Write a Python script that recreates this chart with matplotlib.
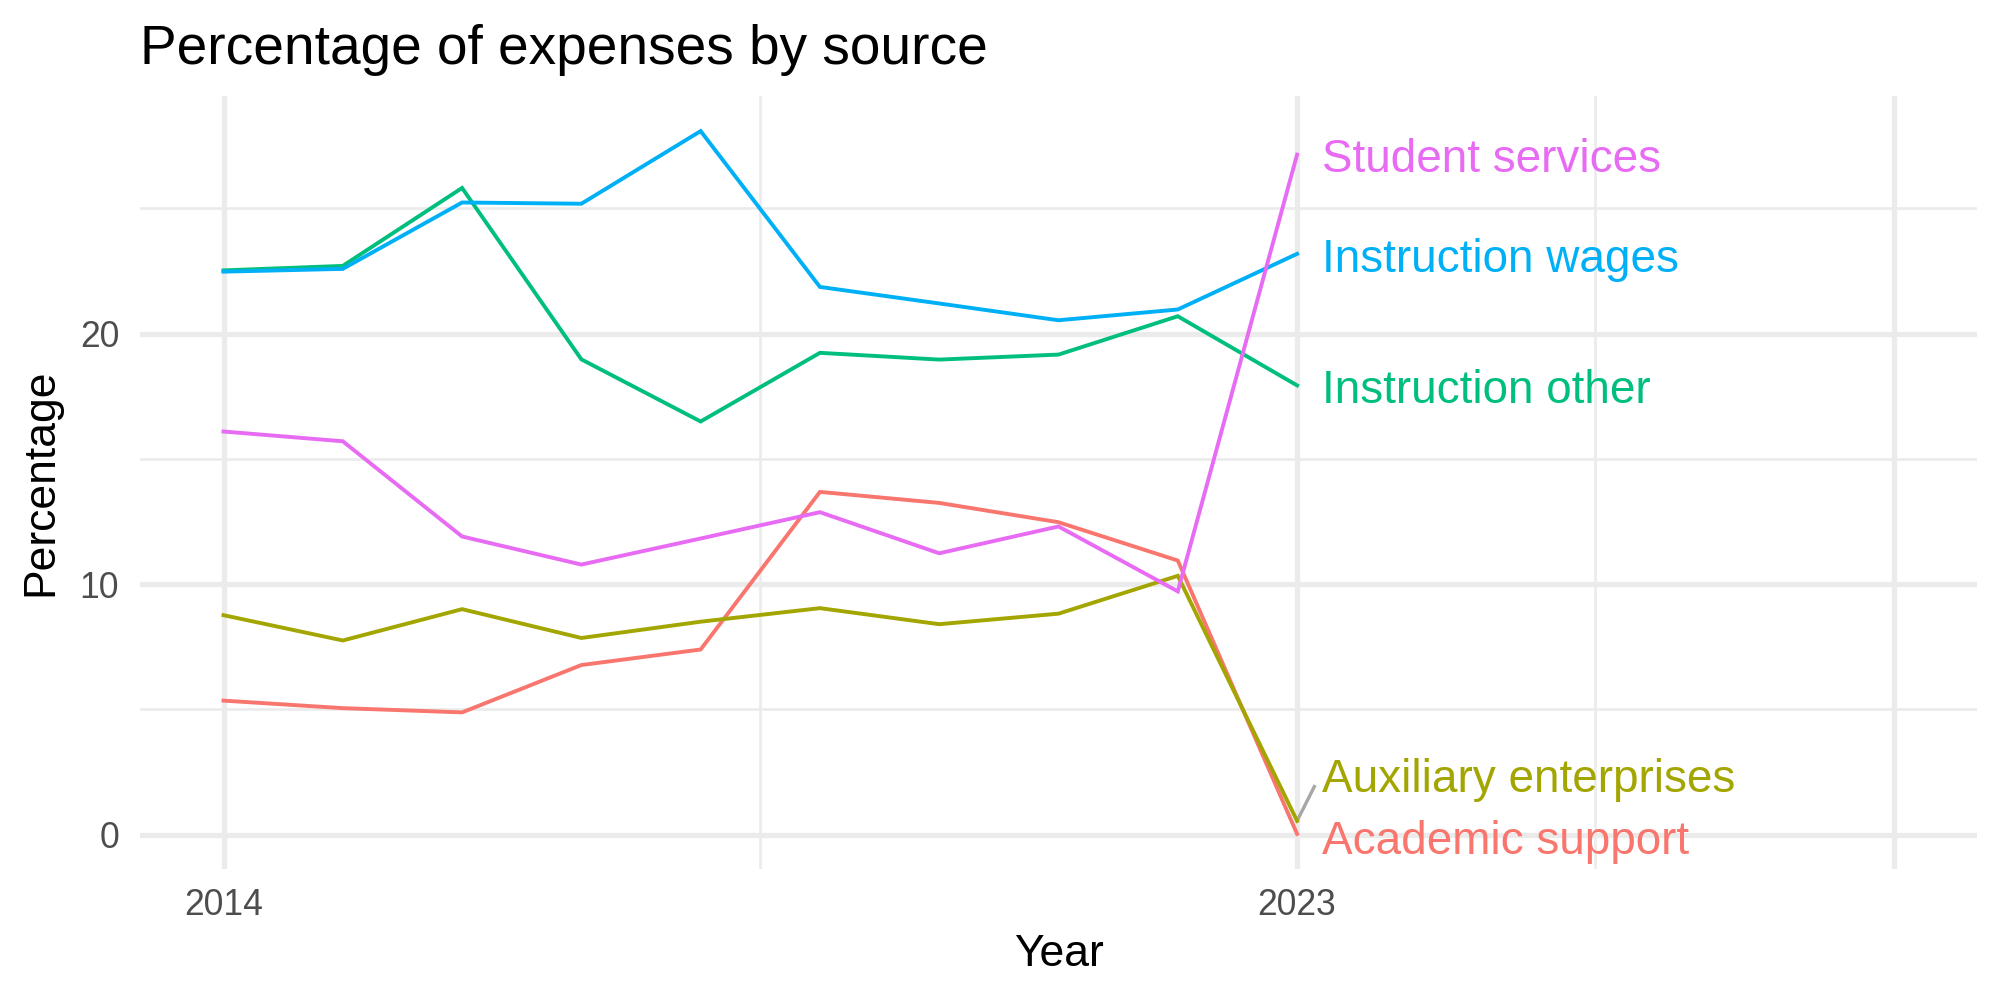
import matplotlib
matplotlib.use("Agg")
import matplotlib.pyplot as plt
from matplotlib.transforms import offset_copy

plt.rcParams['font.family'] = ['Liberation Sans', 'DejaVu Sans']

years = [2014, 2015, 2016, 2017, 2018, 2019, 2020, 2021, 2022, 2023]
academic_support = [5.35, 5.05, 4.88, 6.77, 7.39, 13.68, 13.24, 12.47, 10.94, 0.03]
auxiliary_enterprises = [8.76, 7.75, 9.00, 7.85, 8.50, 9.04, 8.40, 8.82, 10.33, 0.55]
instruction_other = [22.52, 22.70, 25.81, 18.97, 16.49, 19.23, 18.96, 19.16, 20.69, 17.93]
instruction_wages = [22.47, 22.58, 25.23, 25.18, 28.08, 21.86, 21.20, 20.53, 20.96, 23.18]
student_services = [16.09, 15.70, 11.90, 10.78, 11.82, 12.87, 11.23, 12.30, 9.71, 27.14]

series_names = ["Academic support", "Auxiliary enterprises", "Instruction other",
                "Instruction wages", "Student services"]
series_values = [academic_support, auxiliary_enterprises, instruction_other,
                 instruction_wages, student_services]
colors = ["#F8766D", "#A3A500", "#00BF7D", "#00B0F6", "#E76BF3"]

# label nudges (repel result) in data units
label_dy = {"Academic support": -0.15, "Auxiliary enterprises": 1.82,
            "Instruction other": -0.03, "Instruction wages": -0.08,
            "Student services": -0.02}
label_dx = 0.21

fig = plt.figure(figsize=(10, 5), dpi=200)
ax = fig.add_axes([0.07, 0.131, 0.9185, 0.773])

grid_col = "#EBEBEB"
for xv in [2014, 2023, 2028]:
    ax.axvline(xv, color=grid_col, lw=1.9, zorder=0)
for xv in [2018.5, 2025.5]:
    ax.axvline(xv, color=grid_col, lw=0.95, zorder=0)
for yv in [0, 10, 20]:
    ax.axhline(yv, color=grid_col, lw=1.9, zorder=0)
for yv in [5, 15, 25]:
    ax.axhline(yv, color=grid_col, lw=0.95, zorder=0)

for name, vals, c in zip(series_names, series_values, colors):
    ax.plot(years, vals, color=c, lw=1.4, zorder=2, solid_joinstyle='miter')

trans = offset_copy(ax.transData, fig=fig, x=0, y=-5.9, units='points')
for name, vals, c in zip(series_names, series_values, colors):
    lx = years[-1] + label_dx
    ly = vals[-1] + label_dy[name]
    if abs(label_dy[name]) > 1:
        ax.plot([years[-1], years[-1] + 0.145], [vals[-1], ly - 0.45],
                color="#A6A6A6", lw=1.2, zorder=1)
    ax.text(lx, ly, name, color=c, fontsize=16.5, ha='left', va='baseline',
            transform=trans, zorder=3)

ax.set_xlim(2013.3, 2028.7)
ax.set_ylim(-1.37, 29.48)
ax.set_xticks([2014, 2023])
ax.set_xticklabels(["2014", "2023"])
ax.set_yticks([0, 10, 20])
ax.tick_params(axis='both', length=0, labelsize=12.8, labelcolor="#4D4D4D")
ax.tick_params(axis='x', pad=7)
ax.tick_params(axis='y', pad=7.5)
for s in ax.spines.values():
    s.set_visible(False)

ax.set_xlabel("Year", fontsize=16, labelpad=3.8)
ax.set_ylabel("Percentage", fontsize=16, labelpad=6.5)
ax.set_title("Percentage of expenses by source", fontsize=19.8, loc='left', pad=11.5)

fig.savefig("out.png", dpi=200, facecolor="white")
